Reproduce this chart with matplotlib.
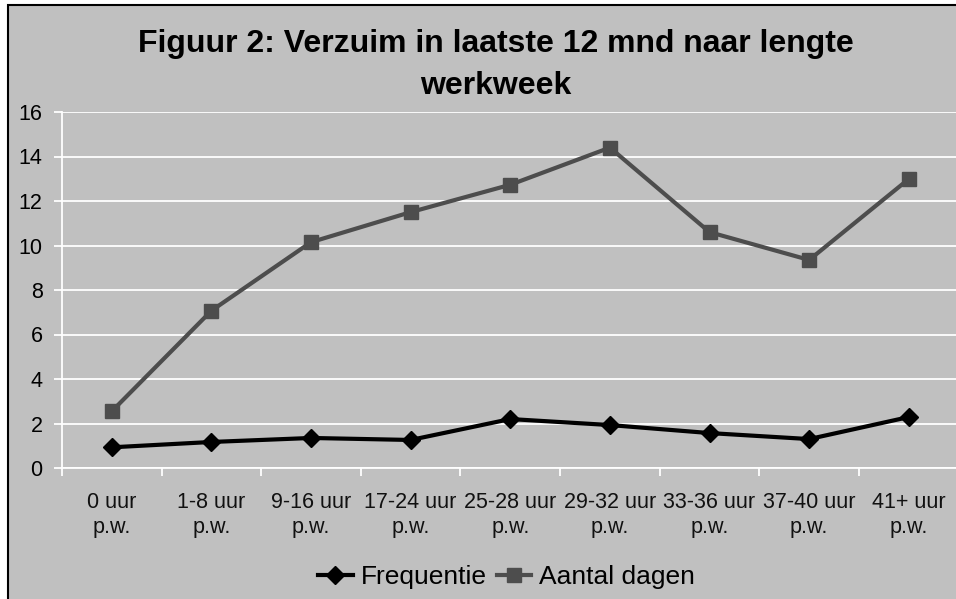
import matplotlib.pyplot as plt
from matplotlib.patches import Rectangle

plt.rcParams['font.family'] = ['Liberation Sans', 'DejaVu Sans']

categories = ['0 uur\np.w.', '1-8 uur\np.w.', '9-16 uur\np.w.', '17-24 uur\np.w.',
              '25-28 uur\np.w.', '29-32 uur\np.w.', '33-36 uur\np.w.',
              '37-40 uur\np.w.', '41+ uur\np.w.']
frequentie = [0.93, 1.17, 1.35, 1.26, 2.2, 1.93, 1.57, 1.3, 2.29]
aantal_dagen = [2.55, 7.07, 10.15, 11.5, 12.73, 14.4, 10.6, 9.35, 12.99]

bg = '#c0c0c0'
fig = plt.figure(figsize=(9.56, 5.99), dpi=100, facecolor='white')

# chart frame (cropped on the right like the original)
fig.patches.append(Rectangle((8 / 956, -0.1), 1.1, 1 - 5 / 599 + 0.1,
                             transform=fig.transFigure, facecolor=bg,
                             edgecolor='black', linewidth=1.5, zorder=-5))

ax = fig.add_axes([62 / 956, 1 - 468 / 599, 896.6 / 956, (468 - 112) / 599])
ax.set_facecolor(bg)

x = list(range(len(categories)))
ax.plot(x, aantal_dagen, color='#4d4d4d', linewidth=3, marker='s',
        markersize=10, label='Aantal dagen', zorder=3)
ax.plot(x, frequentie, color='black', linewidth=3, marker='D',
        markersize=9, label='Frequentie', zorder=4)

ax.set_ylim(0, 16)
ax.set_yticks(range(0, 17, 2))
ax.set_xlim(-0.5, len(categories) - 0.5)
ax.set_xticks([i - 0.5 for i in range(len(categories) + 1)])
ax.set_xticklabels([])
ax.set_xticks(x, minor=True)
ax.set_xticklabels(categories, minor=True, fontsize=15.5, color='#111111',
                   linespacing=1.3)
ax.tick_params(axis='x', which='minor', length=0, pad=17)
ax.tick_params(axis='x', which='major', length=6, color='white', width=1.3)
ax.tick_params(axis='y', length=6, color='white', width=1.3, labelsize=15.5, pad=8)

ax.grid(axis='y', color='white', linewidth=1.3)
ax.set_axisbelow(True)
for s in ['top', 'right']:
    ax.spines[s].set_visible(False)
for s in ['left', 'bottom']:
    ax.spines[s].set_color('white')
    ax.spines[s].set_linewidth(1.3)

fig.text(0.519, 1 - 65 / 599, 'Figuur 2: Verzuim in laatste 12 mnd naar lengte\nwerkweek',
         ha='center', va='center', fontsize=23, fontweight='bold',
         linespacing=1.55)

handles, labels = ax.get_legend_handles_labels()
fig.legend(handles[::-1], labels[::-1], loc='center', ncol=2,
           bbox_to_anchor=(0.53, 1 - 577 / 599), frameon=False,
           fontsize=19, handlelength=1.3, handletextpad=0.3, columnspacing=0.4)

fig.savefig('out.png', dpi=100, facecolor=fig.get_facecolor())
